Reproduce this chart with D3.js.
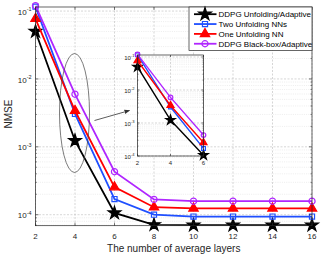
<!DOCTYPE html>
<html><head><meta charset="utf-8">
<script src="https://cdn.jsdelivr.net/npm/d3@7"></script>
<style>body{margin:0;background:#fff}svg{display:block;font-family:"Liberation Sans",Arial,sans-serif}</style>
</head><body><svg id="c" width="324" height="260"></svg>
<script>
const layers = [2,4,6,8,10,12,14,16];
const ddpgUnfolding = [0.05, 1.23e-3, 1.06e-4, 7.1e-5, 7.0e-5, 7.0e-5, 7.0e-5, 7.0e-5];
const twoUnfolding  = [0.116, 3.05e-3, 1.70e-4, 1.0e-4, 9.4e-5, 9.4e-5, 9.4e-5, 9.4e-5];
const oneUnfolding  = [0.077, 3.4e-3, 2.55e-4, 1.29e-4, 1.24e-4, 1.24e-4, 1.24e-4, 1.24e-4];
const blackBox      = [0.12, 5.96e-3, 4.3e-4, 1.68e-4, 1.58e-4, 1.58e-4, 1.58e-4, 1.58e-4];
const seriesNames = ["DDPG Unfolding/Adaptive","Two Unfolding NNs","One Unfolding NN","DDPG Black-box/Adaptive"];
const xTicks = [2,4,6,8,10,12,14,16];
const yTickExp = [-4,-3,-2,-1];
const insetXTicks = [2,4,6];

const seriesVals = [ddpgUnfolding, twoUnfolding, oneUnfolding, blackBox];
const colors = ["#000000","#1f4fff","#ff0000","#b026ff"];
const shapes = ["star","square","triangle","circle"];

const svg = d3.select("#c");
const axisCol = "#262626";

function symbolPath(shape){
  if(shape==="star") return d3.symbol(d3.symbolStar, 50)();
  if(shape==="square") return d3.symbol(d3.symbolSquare, 26)();
  if(shape==="triangle") return d3.symbol(d3.symbolTriangle, 38)();
  return d3.symbol(d3.symbolCircle, 30)();
}
function drawMarker(g, shape, color, x, y, s){
  const p = g.append("path").attr("d", symbolPath(shape))
    .attr("transform", `translate(${x},${y}) scale(${s||1})`)
    .attr("stroke", color).attr("stroke-width", 1.2/(s||1));
  if(shape==="star"||shape==="triangle") p.attr("fill", color);
  else p.attr("fill","none");
}

function drawPanel(g, x, y, box, opts){
  const [L,R,T,B] = box;
  g.append("rect").attr("x",L).attr("y",T).attr("width",R-L).attr("height",B-T).attr("fill","#fff");
  const [ylo, yhi] = y.domain();
  const minors = [];
  for(let e=Math.floor(Math.log10(ylo)); e<=Math.ceil(Math.log10(yhi)); e++){
    for(let m=2;m<=9;m++){ const v=m*Math.pow(10,e); if(v>ylo&&v<yhi) minors.push(v); }
  }
  g.selectAll(null).data(minors).join("line")
    .attr("x1",L).attr("x2",R).attr("y1",d=>y(d)).attr("y2",d=>y(d))
    .attr("stroke","#e0e0e0").attr("stroke-width",0.6).attr("stroke-dasharray","1,1.2");
  g.selectAll(null).data(opts.yt.map(e=>Math.pow(10,e))).join("line")
    .attr("x1",L).attr("x2",R).attr("y1",d=>y(d)).attr("y2",d=>y(d))
    .attr("stroke","#c4c4c4").attr("stroke-width",0.7).attr("stroke-dasharray","2,1.5");
  g.selectAll(null).data(opts.xt).join("line")
    .attr("x1",d=>x(d)).attr("x2",d=>x(d)).attr("y1",T).attr("y2",B)
    .attr("stroke","#c4c4c4").attr("stroke-width",0.7).attr("stroke-dasharray","2,1.5");
  const clipId = "clip"+opts.id;
  g.append("clipPath").attr("id",clipId).append("rect").attr("x",L).attr("y",T-6).attr("width",R-L).attr("height",B-T+6);
  const line = d3.line().x(d=>x(d[0])).y(d=>y(d[1]));
  seriesVals.forEach((vals,i)=>{
    const pts = layers.map((l,j)=>[l,vals[j]]).filter(d=>d[0]<=x.domain()[1]);
    g.append("path").attr("d",line(pts)).attr("fill","none").attr("stroke",colors[i])
      .attr("stroke-width",opts.lw).attr("clip-path",`url(#${clipId})`);
    pts.forEach(d=>drawMarker(g, shapes[i], colors[i], x(d[0]), y(d[1]), opts.ms));
  });
  g.append("rect").attr("x",L).attr("y",T).attr("width",R-L).attr("height",B-T)
    .attr("fill","none").attr("stroke",axisCol).attr("stroke-width",0.7);
  const tl = opts.tick;
  opts.xt.forEach(v=>{
    g.append("line").attr("x1",x(v)).attr("x2",x(v)).attr("y1",B).attr("y2",B-tl).attr("stroke",axisCol).attr("stroke-width",0.6);
    g.append("line").attr("x1",x(v)).attr("x2",x(v)).attr("y1",T).attr("y2",T+tl).attr("stroke",axisCol).attr("stroke-width",0.6);
    g.append("text").attr("x",x(v)).attr("y",B+opts.xlab).attr("text-anchor","middle")
      .attr("font-size",opts.fs).attr("fill","#262626").text(v);
  });
  minors.forEach(v=>{
    g.append("line").attr("x1",L).attr("x2",L+tl*0.5).attr("y1",y(v)).attr("y2",y(v)).attr("stroke",axisCol).attr("stroke-width",0.5);
    g.append("line").attr("x1",R).attr("x2",R-tl*0.5).attr("y1",y(v)).attr("y2",y(v)).attr("stroke",axisCol).attr("stroke-width",0.5);
  });
  opts.yt.forEach(e=>{
    const v=Math.pow(10,e);
    g.append("line").attr("x1",L).attr("x2",L+tl).attr("y1",y(v)).attr("y2",y(v)).attr("stroke",axisCol).attr("stroke-width",0.6);
    g.append("line").attr("x1",R).attr("x2",R-tl).attr("y1",y(v)).attr("y2",y(v)).attr("stroke",axisCol).attr("stroke-width",0.6);
    const t = g.append("text").attr("x",L-opts.ylab).attr("y",y(v)+opts.fs*0.45).attr("text-anchor","end")
      .attr("font-size",opts.fs).attr("fill","#262626");
    t.append("tspan").text("10");
    t.append("tspan").attr("dy",-opts.fs*0.45).attr("font-size",opts.fs*0.68).text(String(e));
  });
}

const x = d3.scaleLinear().domain([2,16]).range([35.5,312]);
const y = d3.scaleLog().domain([Math.pow(10,-4.162), Math.pow(10,-0.94)]).range([225.7,7]);
const gMain = svg.append("g");
drawPanel(gMain, x, y, [35.5,312,7,225.7], {id:"m", xt:xTicks, yt:yTickExp, lw:1.8, ms:1, tick:3, fs:8, xlab:13.5, ylab:4});

svg.append("ellipse").attr("cx",x(4)-0.5).attr("cy",113).attr("rx",15).attr("ry",59.5)
  .attr("fill","none").attr("stroke","#444").attr("stroke-width",0.7);
svg.append("defs").append("marker").attr("id","ah").attr("viewBox","0 0 10 10").attr("refX",9).attr("refY",5)
  .attr("markerWidth",7).attr("markerHeight",7).attr("orient","auto")
  .append("path").attr("d","M0,1 L10,5 L0,9 Z").attr("fill","#333");
svg.append("line").attr("x1",94.5).attr("y1",120.5).attr("x2",129.5).attr("y2",110.5)
  .attr("stroke","#333").attr("stroke-width",0.8).attr("marker-end","url(#ah)");

const xi = d3.scaleLinear().domain([2,6]).range([137.5,203.5]);
const yi = d3.scaleLog().domain([1e-4, Math.pow(10,-0.94)]).range([156,55]);
const gIn = svg.append("g");
drawPanel(gIn, xi, yi, [137.5,203.5,55,156], {id:"i", xt:insetXTicks, yt:yTickExp, lw:1.4, ms:0.75, tick:2, fs:6, xlab:9, ylab:3});

svg.append("text").attr("x",173.75).attr("y",251.5).attr("text-anchor","middle").attr("font-size",10)
  .attr("fill","#262626").text("The number of average layers");
svg.append("text").attr("transform","translate(11.5,114) rotate(-90)").attr("text-anchor","middle").attr("font-size",10)
  .attr("fill","#262626").text("NMSE");

const lg = svg.append("g");
lg.append("rect").attr("x",189).attr("y",7).attr("width",123).attr("height",43.5).attr("fill","#fff")
  .attr("stroke",axisCol).attr("stroke-width",0.7);
seriesNames.forEach((n,i)=>{
  const yy = 14.2 + i*9.85;
  lg.append("line").attr("x1",194).attr("x2",216.5).attr("y1",yy).attr("y2",yy).attr("stroke",colors[i]).attr("stroke-width",1.8);
  drawMarker(lg, shapes[i], colors[i], 205, yy, 1);
  lg.append("text").attr("x",218.5).attr("y",yy+2.9).attr("font-size",8).attr("fill","#000").text(n);
});
</script></body></html>
